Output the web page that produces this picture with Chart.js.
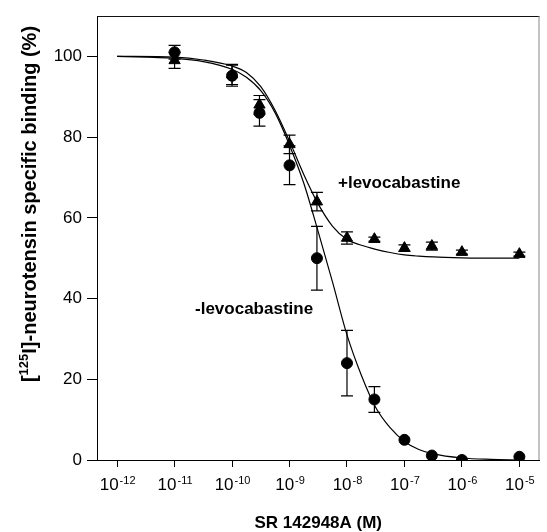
<!DOCTYPE html>
<html>
<head>
<meta charset="utf-8">
<script src="https://cdn.jsdelivr.net/npm/chart.js@4/dist/chart.umd.min.js"></script>
<style>
  body { margin: 0; background: #fff; }
  canvas { display: block; }
</style>
</head>
<body>
<canvas id="myChart" width="547" height="532"></canvas>
<script>
// concentrations of SR 142948A (M)
const conc = [1e-11, 1e-10, 3e-10, 1e-9, 3e-9, 1e-8, 3e-8, 1e-7, 3e-7, 1e-6, 1e-5];

// -levocabastine (circles), mean and SEM
const minusLevo = [101, 95.2, 86, 73, 50, 24, 15, 5, 1.1, 0, 0.8];
const minusErr  = [1.7, 2.6, 3.3, 4.8, 7.9, 8.1, 3.2, 0, 0, 0, 0];

// +levocabastine (triangles)
const plusLevo = [99, 95.5, 88, 78.2, 64, 55, 54.7, 52.5, 53, 51.5, 51];
const plusErr  = [2, 2.5, 2.3, 2.3, 2.3, 1.5, 0.5, 0.8, 1, 0.5, 0.5];

// fitted curves (log10 of concentration)
const curveLogX = [-12, -11, -10.5, -10, -9.75, -9.5, -9.25, -9, -8.75, -8.5, -8.25, -8, -7.75, -7.5, -7.25, -7, -6.75, -6.5, -6, -5.5, -5];
const minusFit  = [100, 99.5, 98.7, 96.8, 94.8, 91.5, 86, 78, 68.5, 56.5, 44, 31, 21, 13, 8, 4.6, 2.6, 1.5, 0.5, 0.15, 0];
const plusFit   = [100, 99.8, 99.1, 97.6, 96, 92.5, 86.6, 79, 70.7, 63.4, 57.9, 54.6, 53.2, 52.2, 51.4, 50.8, 50.5, 50.3, 50.1, 50, 50];

const xTicks = [-12, -11, -10, -9, -8, -7, -6, -5];
const yTicks = [0, 20, 40, 60, 80, 100];

const FONT = '"Liberation Sans", Arial, sans-serif';
Chart.defaults.font.family = FONT;
Chart.defaults.color = '#000';

function pts(xs, ys, isLog) {
  return xs.map((x, i) => ({ x: isLog ? x : Math.log10(x), y: ys[i] }));
}

const errorBars = {
  id: 'errorBars',
  beforeDatasetsDraw(chart) {
    const ctx = chart.ctx;
    const xs = chart.scales.x, ys = chart.scales.y;
    const sets = [[minusLevo, minusErr], [plusLevo, plusErr]];
    ctx.save();
    ctx.strokeStyle = '#000';
    ctx.lineWidth = 1.2;
    sets.forEach(([vals, errs]) => {
      vals.forEach((v, i) => {
        if (!errs[i]) return;
        const px = xs.getPixelForValue(Math.log10(conc[i]));
        const top = ys.getPixelForValue(v + errs[i]);
        const bot = ys.getPixelForValue(v - errs[i]);
        ctx.beginPath();
        ctx.moveTo(px, top); ctx.lineTo(px, bot);
        ctx.moveTo(px - 6, top); ctx.lineTo(px + 6, top);
        ctx.moveTo(px - 6, bot); ctx.lineTo(px + 6, bot);
        ctx.stroke();
      });
    });
    ctx.restore();
  }
};

const decorations = {
  id: 'decorations',
  afterDraw(chart) {
    const ctx = chart.ctx;
    const a = chart.chartArea;
    const xs = chart.scales.x;
    ctx.save();
    // frame top and right
    ctx.lineWidth = 1;
    ctx.strokeStyle = '#111';
    ctx.beginPath(); ctx.moveTo(a.left, a.top + 0.5); ctx.lineTo(a.right, a.top + 0.5); ctx.stroke();
    ctx.strokeStyle = '#888';
    ctx.beginPath(); ctx.moveTo(a.right - 0.5, a.top); ctx.lineTo(a.right - 0.5, a.bottom); ctx.stroke();

    ctx.fillStyle = '#000';
    // x tick labels 10^n
    xTicks.forEach(v => {
      const px = xs.getPixelForValue(v);
      ctx.font = '17px ' + FONT;
      const base = '10';
      const exp = '-' + Math.abs(v);
      const wb = ctx.measureText(base).width;
      ctx.font = '11px ' + FONT;
      const we = ctx.measureText(exp).width;
      const x0 = px - (wb + we) / 2;
      ctx.textAlign = 'left';
      ctx.textBaseline = 'alphabetic';
      ctx.font = '17px ' + FONT;
      ctx.fillText(base, x0, 490);
      ctx.font = '11px ' + FONT;
      ctx.fillText(exp, x0 + wb + 1, 484);
    });

    // x title
    ctx.font = 'bold 17px ' + FONT;
    ctx.textAlign = 'center';
    ctx.fillText('SR 142948A (M)', (a.left + a.right) / 2, 528);

    // y title with superscript
    ctx.save();
    ctx.translate(36, 204);
    ctx.rotate(-Math.PI / 2);
    const parts = [['[', 20, 0], ['125', 13, -8], ['I]-neurotensin specific binding (%)', 20, 0]];
    let total = 0;
    parts.forEach(p => { ctx.font = 'bold ' + p[1] + 'px ' + FONT; total += ctx.measureText(p[0]).width; });
    let x = -total / 2;
    ctx.textAlign = 'left';
    parts.forEach(p => {
      ctx.font = 'bold ' + p[1] + 'px ' + FONT;
      ctx.fillText(p[0], x, p[2]);
      x += ctx.measureText(p[0]).width;
    });
    ctx.restore();

    // series labels
    ctx.font = 'bold 17px ' + FONT;
    ctx.textAlign = 'left';
    ctx.fillText('+levocabastine', 338, 188);
    ctx.fillText('-levocabastine', 195, 314);
    ctx.restore();
  }
};

const data = {
  datasets: [
    {
      label: '-levocabastine fit',
      data: pts(curveLogX, minusFit, true),
      borderColor: '#000',
      borderWidth: 1.2,
      pointRadius: 0,
      showLine: true,
      cubicInterpolationMode: 'monotone'
    },
    {
      label: '+levocabastine fit',
      data: pts(curveLogX, plusFit, true),
      borderColor: '#000',
      borderWidth: 1.2,
      pointRadius: 0,
      showLine: true,
      cubicInterpolationMode: 'monotone'
    },
    {
      label: '-levocabastine',
      data: pts(conc, minusLevo),
      pointStyle: 'circle',
      pointRadius: 5.5,
      backgroundColor: '#000',
      borderColor: '#000',
      showLine: false
    },
    {
      label: '+levocabastine',
      data: pts(conc, plusLevo),
      pointStyle: 'triangle',
      pointRadius: 6.5,
      backgroundColor: '#000',
      borderColor: '#000',
      showLine: false
    }
  ]
};

const config = {
  type: 'scatter',
  data: data,
  plugins: [errorBars, decorations],
  options: {
    responsive: false,
    animation: false,
    layout: { padding: { top: 16, right: 0, left: 0, bottom: 0 } },
    plugins: {
      legend: { display: false },
      tooltip: { enabled: false }
    },
    scales: {
      x: {
        type: 'linear',
        min: -12.35,
        max: -4.65,
        afterBuildTicks: s => { s.ticks = xTicks.map(v => ({ value: v })); },
        afterFit: s => { s.height = 72; },
        ticks: { display: false },
        grid: { drawOnChartArea: false, drawTicks: true, tickLength: 7, color: '#000' },
        border: { display: true, color: '#000', width: 1 }
      },
      y: {
        min: 0,
        max: 110,
        afterBuildTicks: s => { s.ticks = yTicks.map(v => ({ value: v })); },
        afterFit: s => { s.width = 97; },
        ticks: { font: { size: 17 }, color: '#000', padding: 5 },
        grid: { drawOnChartArea: false, drawTicks: true, tickLength: 10, color: '#000' },
        border: { display: true, color: '#000', width: 1 }
      }
    }
  }
};

new Chart(document.getElementById('myChart'), config);
</script>
</body>
</html>
